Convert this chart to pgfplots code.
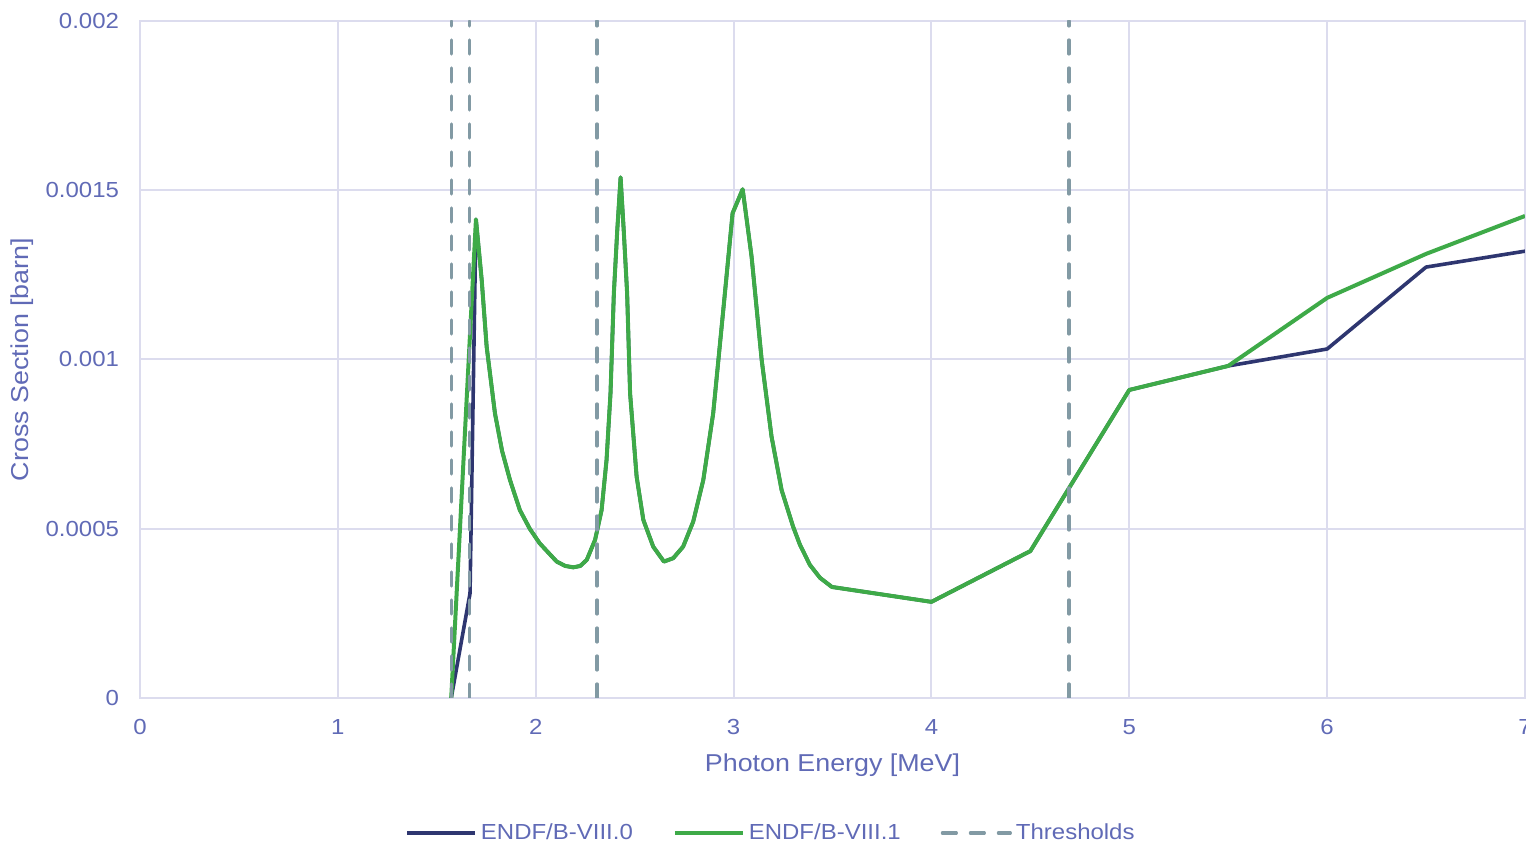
\documentclass[border=0pt]{standalone}
\usepackage{pgfplots}
\pgfplotsset{compat=1.18}
\usepackage{fontspec}
\setmainfont{Liberation Sans}[FakeStretch=1.1]
\definecolor{navyc}{RGB}{46,54,112}
\definecolor{greenc}{RGB}{62,170,72}
\definecolor{thrc}{RGB}{130,154,164}
\definecolor{gridc}{RGB}{220,220,238}
\definecolor{txtc}{RGB}{96,106,182}
\begin{document}
\begin{tikzpicture}
\useasboundingbox (-70pt,-73pt) rectangle (693pt,349pt);
\begin{axis}[
  scale only axis,
  width=692.5pt, height=338.5pt,
  xmin=0, xmax=7, ymin=0, ymax=0.002,
  xtick={0,1,2,3,4,5,6,7},
  ytick={0,0.0005,0.001,0.0015,0.002},
  yticklabels={0,0.0005,0.001,0.0015,0.002},
  scaled y ticks=false,
  /pgf/number format/assume math mode=true,
  grid=major,
  major grid style={draw=gridc, line width=1pt},
  axis line style={draw=gridc, line width=1pt},
  tick style={draw=none},
  ticklabel style={font=\fontsize{10.9}{12}\selectfont, text=txtc},
  xticklabel style={yshift=-7pt},
  yticklabel style={xshift=-7pt},
  xlabel={Photon Energy [MeV]},
  ylabel={Cross Section [barn]},
  every axis x label/.style={at={(axis description cs:0.5,-0.099)}, anchor=center,
    font=\fontsize{12.2}{14}\selectfont, text=txtc},
  every axis y label/.style={at={(axis description cs:-0.0852,0.5)}, anchor=center, rotate=90,
    font=\fontsize{12.2}{14}\selectfont, text=txtc},
  legend columns=3,
  legend style={draw=none, fill=none, at={(axis description cs:0.4563,-0.1994)}, anchor=center,
    font=\fontsize{10.9}{13}\selectfont, text=txtc,
    /tikz/every even column/.append style={column sep=18pt}},
  legend image code/.code={\draw[#1] (0pt,0pt) -- (34pt,0pt);},
]
\addplot[navyc, line width=1.8pt, line join=round] coordinates {
(1.573,0) (1.668,0.000309) (1.698,0.001414) (1.727,0.001235) (1.752,0.001038) (1.794,0.000841)
(1.83,0.00073) (1.87,0.000644) (1.92,0.000555) (1.97,0.0005) (2.02,0.000457) (2.106,0.000403)
(2.15,0.00039) (2.19,0.000386) (2.225,0.00039) (2.258,0.000408) (2.3,0.000467) (2.333,0.000555)
(2.358,0.000703) (2.378,0.0009) (2.395,0.001196) (2.412,0.00138) (2.429,0.001538) (2.445,0.00138)
(2.462,0.001196) (2.477,0.0009) (2.51,0.000654) (2.544,0.000526) (2.594,0.000447) (2.648,0.000403)
(2.695,0.000413) (2.745,0.000447) (2.796,0.000521) (2.847,0.000644) (2.897,0.000841) (2.948,0.001146)
(2.995,0.001432) (3.046,0.001503) (3.091,0.001304) (3.142,0.000999) (3.192,0.000772) (3.243,0.000614)
(3.301,0.000506) (3.336,0.000452) (3.386,0.000393) (3.437,0.000355) (3.497,0.000328) (4.0,0.000284)
(4.5,0.000434) (5.0,0.00091) (5.5,0.000981) (6.0,0.001031) (6.5,0.001273) (7.0,0.00132)
};
\addlegendentry{ENDF/B-VIII.0}
\addplot[greenc, line width=2pt, line join=round] coordinates {
(1.573,0) (1.698,0.001414) (1.727,0.001235) (1.752,0.001038) (1.794,0.000841)
(1.83,0.00073) (1.87,0.000644) (1.92,0.000555) (1.97,0.0005) (2.02,0.000457) (2.106,0.000403)
(2.15,0.00039) (2.19,0.000386) (2.225,0.00039) (2.258,0.000408) (2.3,0.000467) (2.333,0.000555)
(2.358,0.000703) (2.378,0.0009) (2.395,0.001196) (2.412,0.00138) (2.429,0.001538) (2.445,0.00138)
(2.462,0.001196) (2.477,0.0009) (2.51,0.000654) (2.544,0.000526) (2.594,0.000447) (2.648,0.000403)
(2.695,0.000413) (2.745,0.000447) (2.796,0.000521) (2.847,0.000644) (2.897,0.000841) (2.948,0.001146)
(2.995,0.001432) (3.046,0.001503) (3.091,0.001304) (3.142,0.000999) (3.192,0.000772) (3.243,0.000614)
(3.301,0.000506) (3.336,0.000452) (3.386,0.000393) (3.437,0.000355) (3.497,0.000328) (4.0,0.000284)
(4.5,0.000434) (5.0,0.00091) (5.5,0.000981) (6.0,0.001182) (6.5,0.001312) (7.0,0.001424)
};
\addlegendentry{ENDF/B-VIII.1}
\addplot[thrc, line width=1.6pt, line cap=round, dash pattern=on 7pt off 7pt] coordinates {(1.573,0) (1.573,0.002)};
\addlegendentry{Thresholds}
\addplot[thrc, line width=1.6pt, line cap=round, dash pattern=on 7pt off 7pt, forget plot] coordinates {(1.665,0) (1.665,0.002)};
\addplot[thrc, line width=1.6pt, line cap=round, dash pattern=on 7pt off 7pt, forget plot] coordinates {(2.31,0) (2.31,0.002)};
\addplot[thrc, line width=1.6pt, line cap=round, dash pattern=on 7pt off 7pt, forget plot] coordinates {(4.695,0) (4.695,0.002)};
\end{axis}
\end{tikzpicture}
\end{document}
